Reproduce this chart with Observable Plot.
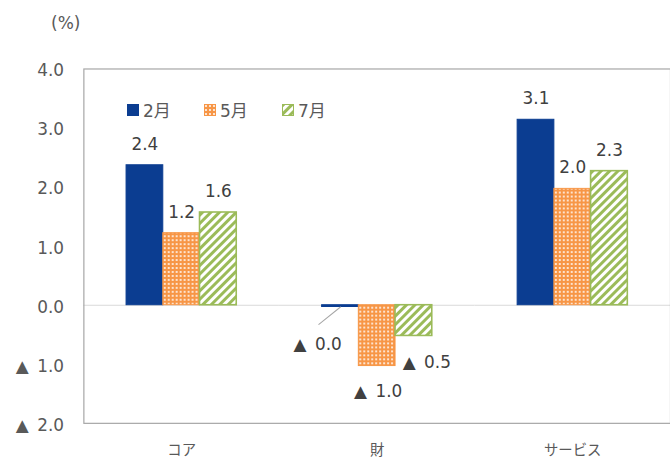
<!DOCTYPE html>
<html>
<head>
<meta charset="utf-8">
<script src="https://cdn.jsdelivr.net/npm/d3@7"></script>
<script src="https://cdn.jsdelivr.net/npm/@observablehq/plot@0.6"></script>
<style>
  html, body { margin: 0; padding: 0; background: #fff; }
  #wrap { position: relative; width: 670px; height: 468px; overflow: hidden;
          font-family: "DejaVu Sans", "Noto Sans CJK JP", sans-serif; color: #595959; }
  #unit { position: absolute; left: 51px; top: 13px; font-size: 17px; }
  #legend { position: absolute; left: 127px; top: 97px; display: flex; font-size: 17px; color: #595959; }
  #legend .item { display: flex; align-items: center; }
  #legend svg { margin-right: 4px; }
</style>
</head>
<body>
<div id="wrap">
  <div id="chart"></div>
  <div id="unit">(%)</div>
  <div id="legend"></div>
</div>
<script>
const categories = ["コア", "財", "サービス"];
const months = ["2月", "5月", "7月"];
const feb = [2.37, -0.03, 3.14];
const may = [1.22, -1.03, 1.97];
const jul = [1.57, -0.52, 2.27];
const yTicks = [-2, -1, 0, 1, 2, 3, 4];

const series = [feb, may, jul];
const data = [];
categories.forEach((c, i) => months.forEach((m, j) => data.push({cat: c, month: m, value: series[j][i]})));

const fmt = v => v < 0 ? "▲\u2002" + Math.abs(v).toFixed(1) : v.toFixed(1);
const fills = {"2月": "#0b3d91", "5月": "url(#patOrange)", "7月": "url(#patGreen)"};
const strokes = {"2月": "#0b3d91", "5月": "#f79646", "7月": "#9bbb59"};
const pick = (c, m) => data.filter(d => d.cat === c && d.month === m);

const labelStyle = {fx: "cat", x: "month", y: "value", text: d => fmt(d.value), fontSize: 17, fill: "#404040"};

const chart = Plot.plot({
  width: 675, height: 468,
  marginLeft: 84, marginRight: 0, marginTop: 69, marginBottom: 42,
  style: {fontFamily: '"DejaVu Sans", "Noto Sans CJK JP", sans-serif', color: "#595959", background: "transparent"},
  fx: {domain: categories, padding: 0, label: null},
  x: {domain: months, paddingInner: 0, paddingOuter: 1.11, axis: null},
  y: {domain: [-2, 4], label: null},
  marks: [
    Plot.ruleY([0], {stroke: "#d9d9d9", strokeWidth: 1.2}),
    Plot.frame({facet: "super", stroke: "#a6a6a6", strokeWidth: 1.2}),
    Plot.barY(data, {fx: "cat", x: "month", y: "value",
      fill: d => fills[d.month], stroke: d => strokes[d.month],
      strokeWidth: d => d.month === "7月" ? 1.6 : 1, inset: 0}),
    Plot.text(data.filter(d => d.value >= 0), {...labelStyle, dy: -21}),
    Plot.text(pick("財", "5月"), {...labelStyle, dx: 1, dy: 26}),
    Plot.text(pick("財", "7月"), {...labelStyle, dx: 13, dy: 27}),
    Plot.text(pick("財", "2月"), {...labelStyle, dx: -23, dy: 38}),
    Plot.vector(pick("財", "2月"), {fx: "cat", x: "month", y: "value", length: 28, rotate: 231,
      anchor: "start", stroke: "#a6a6a6", strokeWidth: 1,
      shape: {draw(ctx, l) { ctx.moveTo(0, 0); ctx.lineTo(0, -l); }}}),
    Plot.axisY({ticks: yTicks, tickFormat: fmt, tickSize: 0, tickPadding: 20, fontSize: 17,
      dy: 2, fill: "#595959", label: null}),
    Plot.axisFx({anchor: "bottom", tickSize: 0, tickPadding: 22, fontSize: 14.5, fill: "#595959", label: null})
  ]
});

const svg = d3.select(chart);
const defs = svg.insert("defs", ":first-child");
const po = defs.append("pattern").attr("id", "patOrange").attr("patternUnits", "userSpaceOnUse")
  .attr("width", 4).attr("height", 4);
po.append("rect").attr("width", 4).attr("height", 4).attr("fill", "#f79646");
po.append("rect").attr("x", 1).attr("y", 1).attr("width", 2).attr("height", 2).attr("fill", "#fde3cf");
const pg = defs.append("pattern").attr("id", "patGreen").attr("patternUnits", "userSpaceOnUse")
  .attr("width", 6).attr("height", 6).attr("patternTransform", "rotate(45)");
pg.append("rect").attr("width", 6).attr("height", 6).attr("fill", "#ffffff");
pg.append("rect").attr("width", 3).attr("height", 6).attr("fill", "#9bbb59");
document.getElementById("chart").appendChild(chart);

// legend
const legend = d3.select("#legend");
const legendLeft = [0, 77, 155];
months.forEach((m, i) => {
  const item = legend.append("div").attr("class", "item")
    .style("position", "absolute").style("left", legendLeft[i] + "px").style("top", "0px").style("white-space", "nowrap");
  const s = item.append("svg").attr("width", 12).attr("height", 12);
  const sd = s.append("defs");
  if (m === "5月") {
    const p = sd.append("pattern").attr("id", "lo").attr("patternUnits", "userSpaceOnUse").attr("width", 4).attr("height", 4);
    p.append("rect").attr("width", 4).attr("height", 4).attr("fill", "#f79646");
    p.append("rect").attr("x", 1).attr("y", 1).attr("width", 2).attr("height", 2).attr("fill", "#fde3cf");
  }
  if (m === "7月") {
    const p = sd.append("pattern").attr("id", "lg").attr("patternUnits", "userSpaceOnUse").attr("width", 6).attr("height", 6).attr("patternTransform", "rotate(45)");
    p.append("rect").attr("width", 6).attr("height", 6).attr("fill", "#fff");
    p.append("rect").attr("width", 3).attr("height", 6).attr("fill", "#9bbb59");
  }
  s.append("rect").attr("x", 0.5).attr("y", 0.5).attr("width", 11).attr("height", 11)
    .attr("fill", m === "2月" ? "#0b3d91" : m === "5月" ? "url(#lo)" : "url(#lg)")
    .attr("stroke", strokes[m]);
  item.append("span").text(m);
});
</script>
</body>
</html>
